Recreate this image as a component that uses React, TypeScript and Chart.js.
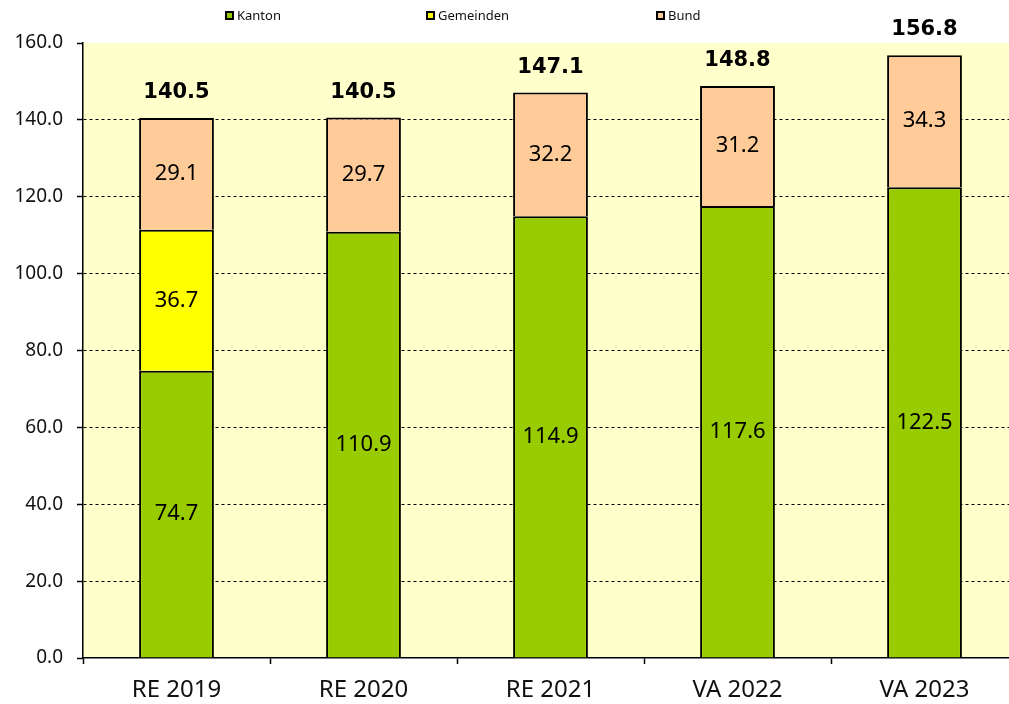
import React, { useEffect, useRef } from "react";
import { Chart, registerables } from "chart.js";

Chart.register(...registerables);

const categories = ["RE 2019", "RE 2020", "RE 2021", "VA 2022", "VA 2023"];
const kanton = [74.7, 110.9, 114.9, 117.6, 122.5];
const gemeinden: (number | null)[] = [36.7, null, null, null, null];
const bund = [29.1, 29.7, 32.2, 31.2, 34.3];
const totals = [140.5, 140.5, 147.1, 148.8, 156.8];
const seriesNames = ["Kanton", "Gemeinden", "Bund"];
const seriesColors = ["#99CC00", "#FFFF00", "#FFCC99"];
const legendX = [225, 426, 656];

const bgPlugin = {
  id: "bgPlugin",
  beforeDraw(chart: any) {
    const { ctx, chartArea, width, height } = chart;
    ctx.save();
    ctx.fillStyle = "#ffffff";
    ctx.fillRect(0, 0, width, height);
    ctx.fillStyle = "#FFFFCC";
    ctx.fillRect(chartArea.left, chartArea.top, chartArea.right - chartArea.left, chartArea.bottom - chartArea.top);
    ctx.restore();
  },
};

const labelPlugin = {
  id: "labelPlugin",
  afterDatasetsDraw(chart: any) {
    const { ctx } = chart;
    ctx.save();
    ctx.fillStyle = "#000";
    ctx.textAlign = "center";
    ctx.textBaseline = "middle";
    ctx.font = "22px 'Noto Sans'";
    chart.data.datasets.forEach((ds: any, di: number) => {
      const meta = chart.getDatasetMeta(di);
      meta.data.forEach((el: any, i: number) => {
        const v = ds.data[i];
        if (v == null) return;
        ctx.fillText(v.toFixed(1), el.x, (el.y + el.base) / 2);
      });
    });
    const top = chart.getDatasetMeta(2);
    ctx.font = "bold 21px 'DejaVu Sans'";
    ctx.textBaseline = "alphabetic";
    top.data.forEach((el: any, i: number) => {
      ctx.fillText(totals[i].toFixed(1), el.x, el.y - 20);
    });
    // legend
    ctx.textAlign = "left";
    ctx.textBaseline = "middle";
    ctx.font = "13px 'Noto Sans'";
    seriesNames.forEach((n, i) => {
      const x = legendX[i];
      ctx.fillStyle = "#000";
      ctx.fillRect(x, 11, 9, 9);
      ctx.fillStyle = seriesColors[i];
      ctx.fillRect(x + 2, 13, 5, 5);
      ctx.fillStyle = "#111";
      ctx.fillText(n, x + 12, 16);
    });
    ctx.restore();
  },
};

export default function App() {
  const ref = useRef<HTMLCanvasElement>(null);
  useEffect(() => {
    const mk = (label: string, data: any[], color: string) => ({
      label,
      data,
      backgroundColor: color,
      borderColor: "#000",
      borderWidth: 2,
      borderSkipped: "start",
      categoryPercentage: 1,
      barPercentage: 0.4,
    });
    const chart = new Chart(ref.current!, {
      type: "bar",
      data: {
        labels: categories,
        datasets: [
          mk(seriesNames[0], kanton, seriesColors[0]),
          mk(seriesNames[1], gemeinden, seriesColors[1]),
          mk(seriesNames[2], bund, seriesColors[2]),
        ],
      },
      options: {
        animation: false,
        responsive: false,
        maintainAspectRatio: false,
        layout: { padding: { top: 43, right: 2, left: 0, bottom: 0 } },
        plugins: { legend: { display: false }, tooltip: { enabled: false } },
        scales: {
          x: {
            stacked: true,
            afterFit: (s: any) => { s.height = 46; },
            border: { color: "#000", width: 1.5 },
            grid: {
              offset: true,
              drawOnChartArea: false,
              drawTicks: true,
              tickLength: 6,
              tickColor: "#000",
              tickWidth: 1.5,
            },
            ticks: { color: "#111", font: { family: "'Noto Sans'", size: 24 }, padding: 12 },
          },
          y: {
            stacked: true,
            min: 0,
            max: 160,
            afterFit: (s: any) => { s.width = 83; },
            border: { color: "#000", width: 1.5, dash: [3, 3] },
            grid: {
              color: (c: any) => (c.tick && (c.tick.value === 160 || c.tick.value === 0) ? "rgba(0,0,0,0)" : "#000"),
              lineWidth: 1,
              tickBorderDash: [],
              tickColor: "#000",
              tickLength: 6,
              tickWidth: 1.5,
            } as any,
            ticks: {
              stepSize: 20,
              color: "#111",
              padding: 14,
              font: { family: "'Noto Sans'", size: 19 },
              callback: (v: any) => Number(v).toFixed(1),
            },
          },
        },
      } as any,
      plugins: [bgPlugin, labelPlugin],
    });
    return () => chart.destroy();
  }, []);
  return (
    <div style={{ position: "fixed", left: 0, top: 0, width: 1020, height: 704 }}>
      <canvas ref={ref} width={1020} height={704} style={{ display: "block", width: 1020, height: 704 }} />
    </div>
  );
}
